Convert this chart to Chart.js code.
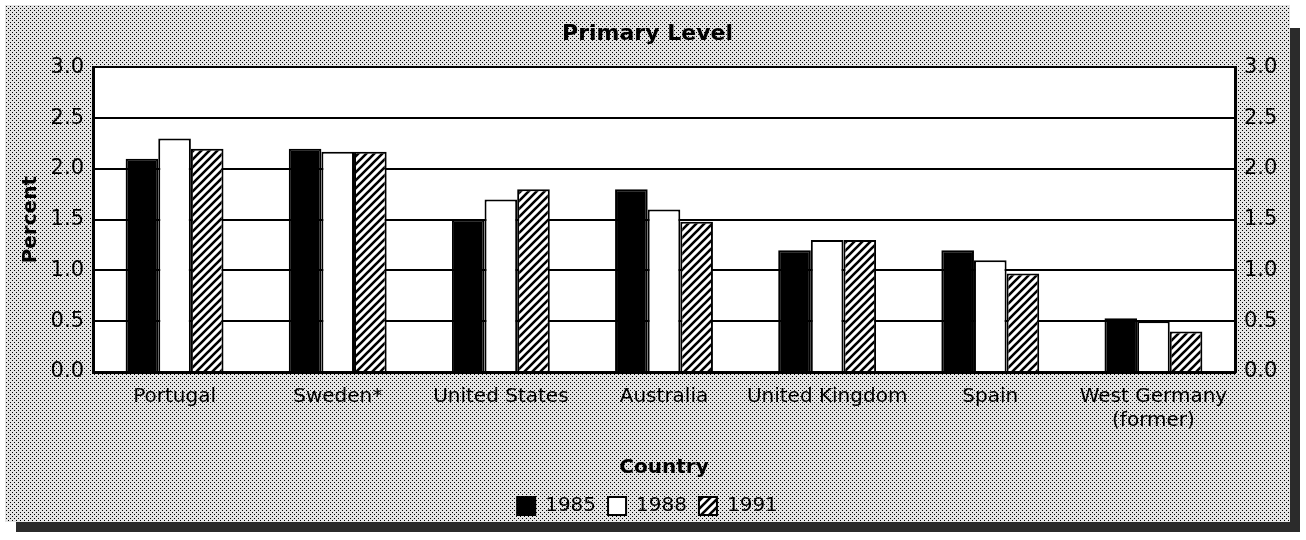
<!DOCTYPE html>
<html>
<head>
<meta charset="utf-8">
<script src="https://cdn.jsdelivr.net/npm/chart.js@4.4.0/dist/chart.umd.min.js"></script>
<style>
  html, body { margin: 0; padding: 0; background: #fff; }
</style>
</head>
<body>
<canvas id="chart" width="1306" height="540"></canvas>
<script>
// values (percent)
const countries = ['Portugal', 'Sweden*', 'United States', 'Australia', 'United Kingdom', 'Spain', ['West Germany', '(former)']]
const years = ['1985', '1988', '1991']
const values1985 = [2.1, 2.2, 1.5, 1.8, 1.2, 1.2, 0.53]
const values1988 = [2.3, 2.17, 1.7, 1.6, 1.3, 1.1, 0.5]
const values1991 = [2.2, 2.17, 1.8, 1.48, 1.3, 0.97, 0.4]
const yTicks = [0, 0.5, 1, 1.5, 2, 2.5, 3]

const font = 'DejaVu Sans'

function makeHatch() {
    const c = document.createElement('canvas')
    c.width = 8
    c.height = 8
    const g = c.getContext('2d')
    g.fillStyle = '#fff'
    g.fillRect(0, 0, 8, 8)
    g.strokeStyle = '#000'
    g.lineWidth = 2.6
    g.beginPath()
    g.moveTo(-2, 10); g.lineTo(10, -2)
    g.moveTo(-2, 2); g.lineTo(2, -2)
    g.moveTo(6, 10); g.lineTo(10, 6)
    g.stroke()
    return g.createPattern(c, 'repeat')
}

// halftone dots on a diagonal grid
function makeDots(ctx) {
    const c = document.createElement('canvas')
    c.width = 4
    c.height = 4
    const g = c.getContext('2d')
    g.fillStyle = '#e4e4e4'
    g.fillRect(0, 0, 4, 4)
    g.fillStyle = '#000'
    g.fillRect(0, 0, 1, 1)
    g.fillRect(2, 2, 1, 1)
    return ctx.createPattern(c, 'repeat')
}

const hatch = makeHatch()

const panelPlugin = {
    id: 'panel',
    beforeDraw(chart) {
        const {ctx, chartArea} = chart
        ctx.save()
        ctx.fillStyle = '#fff'
        ctx.fillRect(0, 0, chart.width, chart.height)
        ctx.fillStyle = '#2b2b2b'
        ctx.fillRect(1290, 28, 10, 504)
        ctx.fillRect(16, 522, 1284, 10)
        ctx.fillStyle = makeDots(ctx)
        ctx.fillRect(5, 5, 1285, 517)
        ctx.fillStyle = '#fff'
        ctx.fillRect(chartArea.left, chartArea.top, chartArea.right - chartArea.left, chartArea.bottom - chartArea.top)
        ctx.restore()
    }
}

const yAxis = (position) => ({
    position: position,
    min: 0,
    max: 3,
    afterBuildTicks: scale => { scale.ticks = yTicks.map(v => ({value: v})) },
    afterFit: scale => { scale.width = position === 'left' ? 88 : 55 },
    ticks: {
        color: '#000',
        padding: 9,
        font: {family: font, size: 21},
        callback: v => v.toFixed(1)
    },
    grid: {
        display: position === 'left',
        color: '#000',
        lineWidth: 2,
        drawTicks: false
    },
    border: {display: true, color: '#000', width: 3},
    title: {
        display: position === 'left',
        text: 'Percent',
        color: '#000',
        font: {family: font, size: 20, weight: 'bold'},
        padding: {top: 14, bottom: 0}
    }
})

new Chart(document.getElementById('chart'), {
    type: 'bar',
    data: {
        labels: countries,
        datasets: [
            {label: years[0], data: values1985, backgroundColor: '#000', borderColor: '#000', borderWidth: 2},
            {label: years[1], data: values1988, backgroundColor: '#fff', borderColor: '#000', borderWidth: 2},
            {label: years[2], data: values1991, backgroundColor: hatch, borderColor: '#000', borderWidth: 2}
        ]
    },
    options: {
        responsive: false,
        animation: false,
        devicePixelRatio: 1,
        layout: {padding: {top: 5, left: 5, right: 16, bottom: 14}},
        datasets: {bar: {barPercentage: 1, categoryPercentage: 0.6}},
        scales: {
            x: {
                afterFit: scale => { scale.height = 112 },
                ticks: {
                    color: '#000',
                    padding: 5,
                    maxRotation: 0,
                    autoSkip: false,
                    font: {family: font, size: 20}
                },
                grid: {display: false},
                border: {display: true, color: '#000', width: 3},
                title: {
                    display: true,
                    text: 'Country',
                    color: '#000',
                    font: {family: font, size: 20, weight: 'bold'},
                    padding: {top: 10, bottom: 4}
                }
            },
            y: yAxis('left'),
            y2: yAxis('right')
        },
        plugins: {
            title: {
                display: true,
                text: 'Primary Level',
                color: '#000',
                font: {family: font, size: 22, weight: 'bold'},
                padding: {top: 16, bottom: 20}
            },
            legend: {
                position: 'bottom',
                labels: {
                    color: '#000',
                    boxWidth: 18,
                    boxHeight: 18,
                    padding: 12,
                    font: {family: font, size: 20}
                }
            },
            tooltip: {enabled: false}
        }
    },
    plugins: [panelPlugin]
})
</script>
</body>
</html>
